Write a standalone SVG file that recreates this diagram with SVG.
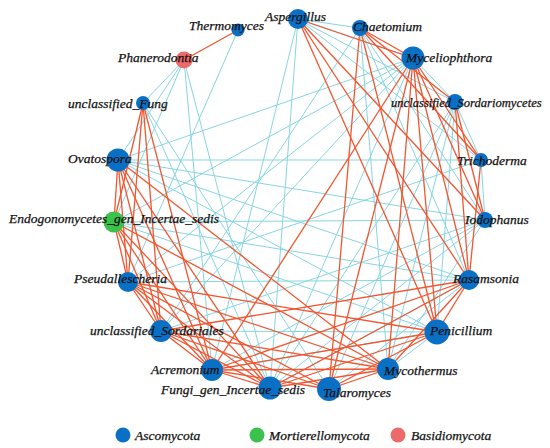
<svg xmlns="http://www.w3.org/2000/svg" width="550" height="448" viewBox="0 0 550 448">
<style>
.c{stroke:#86d5e2;stroke-width:1;fill:none}
.r{stroke:#f2552f;stroke-width:1.3;fill:none}
.a{fill:#0a70c6}
.g{fill:#3cc24c}
.b{fill:#ec6a6a}
.t{font-family:'Liberation Serif','Times New Roman',Times,serif;font-style:italic;font-size:13.5px;fill:#111;stroke:#111;stroke-width:0.25}
</style>
<rect width="550" height="448" fill="#fff"/>
<g id="connectors">
<g id="cyan">
<line class="c" x1="238" y1="30" x2="128" y2="282"/>
<line class="c" x1="184" y1="60" x2="143" y2="103"/>
<line class="c" x1="184" y1="60" x2="118" y2="160"/>
<line class="c" x1="184" y1="60" x2="114" y2="222"/>
<line class="c" x1="184" y1="60" x2="270" y2="388"/>
<line class="c" x1="184" y1="60" x2="212" y2="370"/>
<line class="c" x1="298" y1="19" x2="360" y2="28"/>
<line class="c" x1="298" y1="19" x2="455" y2="102"/>
<line class="c" x1="298" y1="19" x2="481" y2="160"/>
<line class="c" x1="298" y1="19" x2="270" y2="388"/>
<line class="c" x1="298" y1="19" x2="212" y2="370"/>
<line class="c" x1="298" y1="19" x2="413" y2="58"/>
<line class="c" x1="360" y1="28" x2="485" y2="220"/>
<line class="c" x1="360" y1="28" x2="469" y2="280"/>
<line class="c" x1="360" y1="28" x2="388" y2="369"/>
<line class="c" x1="360" y1="28" x2="161" y2="331"/>
<line class="c" x1="413" y1="58" x2="455" y2="102"/>
<line class="c" x1="413" y1="58" x2="118" y2="160"/>
<line class="c" x1="413" y1="58" x2="114" y2="222"/>
<line class="c" x1="413" y1="58" x2="161" y2="331"/>
<line class="c" x1="413" y1="58" x2="128" y2="282"/>
<line class="c" x1="413" y1="58" x2="270" y2="388"/>
<line class="c" x1="455" y1="102" x2="329" y2="389"/>
<line class="c" x1="455" y1="102" x2="388" y2="369"/>
<line class="c" x1="455" y1="102" x2="481" y2="160"/>
<line class="c" x1="455" y1="102" x2="270" y2="388"/>
<line class="c" x1="455" y1="102" x2="437" y2="332"/>
<line class="c" x1="481" y1="160" x2="485" y2="220"/>
<line class="c" x1="481" y1="160" x2="118" y2="160"/>
<line class="c" x1="481" y1="160" x2="128" y2="282"/>
<line class="c" x1="485" y1="220" x2="212" y2="370"/>
<line class="c" x1="485" y1="220" x2="270" y2="388"/>
<line class="c" x1="485" y1="220" x2="118" y2="160"/>
<line class="c" x1="485" y1="220" x2="114" y2="222"/>
<line class="c" x1="485" y1="220" x2="161" y2="331"/>
<line class="c" x1="469" y1="280" x2="118" y2="160"/>
<line class="c" x1="469" y1="280" x2="128" y2="282"/>
<line class="c" x1="469" y1="280" x2="329" y2="389"/>
<line class="c" x1="469" y1="280" x2="270" y2="388"/>
<line class="c" x1="437" y1="332" x2="114" y2="222"/>
<line class="c" x1="437" y1="332" x2="118" y2="160"/>
<line class="c" x1="437" y1="332" x2="161" y2="331"/>
<line class="c" x1="143" y1="103" x2="270" y2="388"/>
<line class="c" x1="143" y1="103" x2="329" y2="389"/>
<line class="c" x1="114" y1="222" x2="469" y2="280"/>
<line class="c" x1="388" y1="369" x2="485" y2="220"/>
<line class="c" x1="388" y1="369" x2="437" y2="332"/>
<line class="c" x1="212" y1="370" x2="437" y2="332"/>
</g>
<g id="red">
<line class="r" x1="184" y1="60" x2="238" y2="30"/>
<line class="r" x1="298" y1="19" x2="413" y2="58"/>
<line class="r" x1="360" y1="28" x2="413" y2="58"/>
<line class="r" x1="360" y1="28" x2="455" y2="102"/>
<line class="r" x1="298" y1="19" x2="437" y2="332"/>
<line class="r" x1="298" y1="19" x2="469" y2="280"/>
<line class="r" x1="298" y1="19" x2="485" y2="220"/>
<line class="r" x1="360" y1="28" x2="481" y2="160"/>
<line class="r" x1="360" y1="28" x2="437" y2="332"/>
<line class="r" x1="360" y1="28" x2="329" y2="389"/>
<line class="r" x1="413" y1="58" x2="212" y2="370"/>
<line class="r" x1="413" y1="58" x2="329" y2="389"/>
<line class="r" x1="413" y1="58" x2="388" y2="369"/>
<line class="r" x1="413" y1="58" x2="437" y2="332"/>
<line class="r" x1="413" y1="58" x2="469" y2="280"/>
<line class="r" x1="413" y1="58" x2="485" y2="220"/>
<line class="r" x1="413" y1="58" x2="481" y2="160"/>
<line class="r" x1="455" y1="102" x2="469" y2="280"/>
<line class="r" x1="455" y1="102" x2="485" y2="220"/>
<line class="r" x1="481" y1="160" x2="469" y2="280"/>
<line class="r" x1="143" y1="103" x2="114" y2="222"/>
<line class="r" x1="143" y1="103" x2="128" y2="282"/>
<line class="r" x1="143" y1="103" x2="161" y2="331"/>
<line class="r" x1="143" y1="103" x2="212" y2="370"/>
<line class="r" x1="118" y1="160" x2="114" y2="222"/>
<line class="r" x1="118" y1="160" x2="128" y2="282"/>
<line class="r" x1="118" y1="160" x2="161" y2="331"/>
<line class="r" x1="118" y1="160" x2="212" y2="370"/>
<line class="r" x1="118" y1="160" x2="270" y2="388"/>
<line class="r" x1="118" y1="160" x2="388" y2="369"/>
<line class="r" x1="114" y1="222" x2="128" y2="282"/>
<line class="r" x1="114" y1="222" x2="161" y2="331"/>
<line class="r" x1="114" y1="222" x2="212" y2="370"/>
<line class="r" x1="114" y1="222" x2="270" y2="388"/>
<line class="r" x1="114" y1="222" x2="388" y2="369"/>
<line class="r" x1="128" y1="282" x2="161" y2="331"/>
<line class="r" x1="128" y1="282" x2="212" y2="370"/>
<line class="r" x1="128" y1="282" x2="270" y2="388"/>
<line class="r" x1="128" y1="282" x2="329" y2="389"/>
<line class="r" x1="128" y1="282" x2="388" y2="369"/>
<line class="r" x1="128" y1="282" x2="437" y2="332"/>
<line class="r" x1="161" y1="331" x2="212" y2="370"/>
<line class="r" x1="161" y1="331" x2="270" y2="388"/>
<line class="r" x1="161" y1="331" x2="329" y2="389"/>
<line class="r" x1="161" y1="331" x2="388" y2="369"/>
<line class="r" x1="161" y1="331" x2="469" y2="280"/>
<line class="r" x1="212" y1="370" x2="270" y2="388"/>
<line class="r" x1="212" y1="370" x2="329" y2="389"/>
<line class="r" x1="212" y1="370" x2="388" y2="369"/>
<line class="r" x1="212" y1="370" x2="437" y2="332"/>
<line class="r" x1="212" y1="370" x2="469" y2="280"/>
<line class="r" x1="270" y1="388" x2="388" y2="369"/>
<line class="r" x1="270" y1="388" x2="437" y2="332"/>
<line class="r" x1="270" y1="388" x2="469" y2="280"/>
<line class="r" x1="329" y1="389" x2="388" y2="369"/>
<line class="r" x1="329" y1="389" x2="437" y2="332"/>
<line class="r" x1="388" y1="369" x2="469" y2="280"/>
<line class="r" x1="437" y1="332" x2="469" y2="280"/>
</g>
</g>
<g id="node-thermomyces"><circle class="a" cx="238" cy="30" r="6.5"/><text class="t" x="189" y="30">Thermomyces</text></g>
<g id="node-phanerodontia"><circle class="b" cx="184" cy="60" r="8.5"/><text class="t" x="118" y="62">Phanerodontia</text></g>
<g id="node-aspergillus"><circle class="a" cx="298" cy="19" r="10"/><text class="t" x="265" y="21">Aspergillus</text></g>
<g id="node-chaetomium"><circle class="a" cx="360" cy="28" r="8"/><text class="t" x="353" y="31">Chaetomium</text></g>
<g id="node-myceliophthora"><circle class="a" cx="413" cy="58" r="11.5"/><text class="t" x="406" y="62">Myceliophthora</text></g>
<g id="node-unclassified-sordariomycetes"><circle class="a" cx="455" cy="102" r="8"/><text class="t" x="391" y="107" style="font-size:12.6px">unclassified_Sordariomycetes</text></g>
<g id="node-trichoderma"><circle class="a" cx="481" cy="160" r="7"/><text class="t" x="457" y="165">Trichoderma</text></g>
<g id="node-iodophanus"><circle class="a" cx="485" cy="220" r="8"/><text class="t" x="465" y="224">Iodophanus</text></g>
<g id="node-rasamsonia"><circle class="a" cx="469" cy="280" r="10"/><text class="t" x="453" y="283">Rasamsonia</text></g>
<g id="node-penicillium"><circle class="a" cx="437" cy="332" r="12.5"/><text class="t" x="430" y="335">Penicillium</text></g>
<g id="node-mycothermus"><circle class="a" cx="388" cy="369" r="11"/><text class="t" x="384" y="375">Mycothermus</text></g>
<g id="node-talaromyces"><circle class="a" cx="329" cy="389" r="12"/><text class="t" x="323" y="397">Talaromyces</text></g>
<g id="node-fungi-gen-incertae-sedis"><circle class="a" cx="270" cy="388" r="11.5"/><text class="t" x="161" y="394">Fungi_gen_Incertae_sedis</text></g>
<g id="node-acremonium"><circle class="a" cx="212" cy="370" r="11"/><text class="t" x="151" y="374">Acremonium</text></g>
<g id="node-unclassified-sordariales"><circle class="a" cx="161" cy="331" r="11"/><text class="t" x="90" y="335">unclassified_Sordariales</text></g>
<g id="node-pseudallescheria"><circle class="a" cx="128" cy="282" r="10"/><text class="t" x="74" y="283">Pseudallescheria</text></g>
<g id="node-endogonomycetes"><circle class="g" cx="114" cy="222" r="10.5"/><text class="t" x="9" y="223">Endogonomycetes_gen_Incertae_sedis</text></g>
<g id="node-ovatospora"><circle class="a" cx="118" cy="160" r="11.5"/><text class="t" x="68" y="163">Ovatospora</text></g>
<g id="node-unclassified-fung"><circle class="a" cx="143" cy="103" r="7"/><text class="t" x="68" y="108">unclassified_Fung</text></g>
<g id="legend">
<circle class="a" cx="123" cy="435" r="7.5"/><text class="t" x="135" y="440">Ascomycota</text>
<circle class="g" cx="257" cy="435" r="7.5"/><text class="t" x="269" y="440">Mortierellomycota</text>
<circle class="b" cx="398" cy="435" r="7.5"/><text class="t" x="411" y="440">Basidiomycota</text>
</g>
</svg>
